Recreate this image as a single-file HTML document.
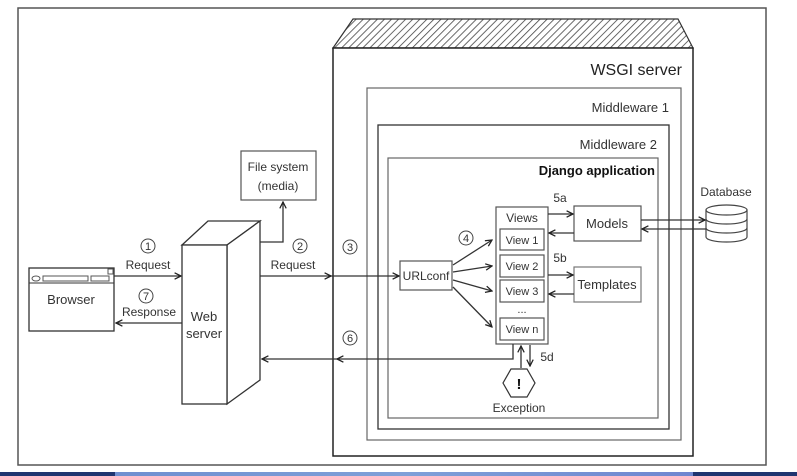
<!DOCTYPE html>
<html><head><meta charset="utf-8"><style>
html,body{margin:0;padding:0;background:#fff;}
svg{display:block;font-family:"Liberation Sans",sans-serif;}
</style></head><body>
<svg width="797" height="476" viewBox="0 0 797 476" xmlns="http://www.w3.org/2000/svg">
<defs>
<pattern id="h" width="5" height="5" patternUnits="userSpaceOnUse" patternTransform="rotate(45)">
<rect width="5" height="5" fill="#fff"/><line x1="0" y1="0" x2="0" y2="5" stroke="#444" stroke-width="1.6"/>
</pattern>
<marker id="a" viewBox="0 0 10 10" refX="9" refY="5" markerWidth="8" markerHeight="8" orient="auto-start-reverse" markerUnits="userSpaceOnUse">
<path d="M1,1 L9,5 L1,9" fill="none" stroke="#222" stroke-width="1.6"/></marker>
<linearGradient id="bb" x1="0" x2="1" y1="0" y2="0">
<stop offset="0" stop-color="#6f8fd0"/><stop offset="0.5" stop-color="#7fa0d8"/><stop offset="1" stop-color="#6f86d0"/></linearGradient>
</defs>
<rect width="797" height="476" fill="#fff"/>
<rect x="18" y="8" width="748" height="457" fill="none" stroke="#555" stroke-width="1.5"/>
<rect x="0" y="472" width="797" height="4" fill="#1f3570"/>
<rect x="115" y="472" width="578" height="4" fill="url(#bb)"/>
<!-- WSGI -->
<polygon points="333,48 353,19 678,19 693,48" fill="url(#h)" stroke="#333" stroke-width="1.2"/>
<rect x="333" y="48" width="360" height="408" fill="#fff" stroke="#222" stroke-width="1.5"/>
<text x="682" y="75" font-size="16" text-anchor="end" fill="#222">WSGI server</text>
<rect x="367" y="88" width="314" height="352" fill="none" stroke="#666" stroke-width="1.2"/>
<text x="669" y="112" font-size="13" text-anchor="end" fill="#333">Middleware 1</text>
<rect x="378" y="125" width="291" height="304" fill="none" stroke="#333" stroke-width="1.3"/>
<text x="657" y="149" font-size="13" text-anchor="end" fill="#333">Middleware 2</text>
<rect x="388" y="158" width="270" height="260" fill="none" stroke="#666" stroke-width="1.2"/>
<text x="655" y="175" font-size="13" font-weight="bold" text-anchor="end" fill="#111">Django application</text>
<!-- Views -->
<rect x="496" y="207" width="52" height="137" fill="#fff" stroke="#555" stroke-width="1.2"/>
<text x="522" y="222" font-size="12" text-anchor="middle" fill="#333">Views</text>
<g fill="none" stroke="#555" stroke-width="1.2">
<rect x="500" y="229" width="44" height="21"/><rect x="500" y="255" width="44" height="22"/>
<rect x="500" y="280" width="44" height="22"/><rect x="500" y="318" width="44" height="22"/></g>
<g font-size="11" text-anchor="middle" fill="#333">
<text x="522" y="244">View 1</text><text x="522" y="270">View 2</text><text x="522" y="295">View 3</text>
<text x="522" y="313">...</text><text x="522" y="333">View n</text></g>
<rect x="574" y="206" width="67" height="35" fill="none" stroke="#555" stroke-width="1.2"/>
<text x="607" y="228" font-size="13" text-anchor="middle" fill="#333">Models</text>
<rect x="574" y="267" width="67" height="35" fill="none" stroke="#777" stroke-width="1.2"/>
<text x="607" y="289" font-size="13" text-anchor="middle" fill="#333">Templates</text>
<rect x="400" y="261" width="52" height="29" fill="none" stroke="#555" stroke-width="1.2"/>
<text x="426" y="280" font-size="12" text-anchor="middle" fill="#333">URLconf</text>
<!-- DB -->
<g fill="#fff" stroke="#444" stroke-width="1.2">
<path d="M706,210 L706,237 A20.5,5 0 0 0 747,237 L747,210"/>
<path d="M706,219 A20.5,5 0 0 0 747,219 M706,228 A20.5,5 0 0 0 747,228" fill="none"/>
<ellipse cx="726.5" cy="210" rx="20.5" ry="5"/></g>
<text x="726" y="196" font-size="12" text-anchor="middle" fill="#333">Database</text>
<!-- arrows -->
<g stroke="#333" stroke-width="1.3" fill="none" marker-end="url(#a)">
<line x1="548" y1="214" x2="573" y2="214"/><line x1="574" y1="233" x2="549" y2="233"/>
<line x1="548" y1="275" x2="573" y2="275"/><line x1="574" y1="294" x2="549" y2="294"/>
<line x1="641" y1="220" x2="705" y2="220"/><line x1="706" y1="229" x2="642" y2="229"/>
<line x1="453" y1="265" x2="492" y2="240"/><line x1="453" y1="272" x2="492" y2="266"/>
<line x1="453" y1="280" x2="492" y2="291"/><line x1="453" y1="287" x2="492" y2="327"/>
<line x1="521" y1="368" x2="521" y2="346"/><line x1="530" y1="345" x2="530" y2="366"/>
<line x1="114" y1="276" x2="181" y2="276"/><line x1="182" y1="323" x2="116" y2="323"/>
<line x1="260" y1="276" x2="331" y2="276"/><line x1="331" y1="276" x2="399" y2="276"/>
<polyline points="260,242 283,242 283,202"/>
<polyline points="513,344 513,359 337,359"/><line x1="337" y1="359" x2="262" y2="359"/>
</g>
<polygon points="511,369 527,369 535,383 527,397 511,397 503,383" fill="#fff" stroke="#333" stroke-width="1.2"/>
<text x="519" y="389" font-size="15" font-weight="bold" text-anchor="middle" fill="#111">!</text>
<text x="519" y="412" font-size="12" text-anchor="middle" fill="#333">Exception</text>
<g font-size="12" fill="#333" text-anchor="middle">
<text x="560" y="202">5a</text><text x="560" y="262">5b</text><text x="547" y="361">5d</text></g>
<!-- circled numbers -->
<g fill="none" stroke="#444" stroke-width="1">
<circle cx="148" cy="246" r="7"/><circle cx="300" cy="246" r="7"/><circle cx="350" cy="247" r="7"/>
<circle cx="466" cy="238" r="7"/><circle cx="350" cy="338" r="7"/><circle cx="146" cy="296" r="7"/></g>
<g font-size="11" fill="#333" text-anchor="middle">
<text x="148" y="250">1</text><text x="300" y="250">2</text><text x="350" y="251">3</text>
<text x="466" y="242">4</text><text x="350" y="342">6</text><text x="146" y="300">7</text></g>
<g font-size="12" fill="#333" text-anchor="middle">
<text x="148" y="269">Request</text><text x="293" y="269">Request</text><text x="149" y="316">Response</text></g>
<!-- file system -->
<rect x="241" y="151" width="75" height="49" fill="none" stroke="#555" stroke-width="1.2"/>
<text x="278" y="171" font-size="12" text-anchor="middle" fill="#333">File system</text>
<text x="278" y="190" font-size="12" text-anchor="middle" fill="#333">(media)</text>
<!-- web server -->
<g fill="#fff" stroke="#333" stroke-width="1.3">
<polygon points="182,245 208,221 260,221 227,245"/>
<polygon points="227,245 260,221 260,380 227,404"/>
<rect x="182" y="245" width="45" height="159"/></g>
<text x="204" y="321" font-size="13" text-anchor="middle" fill="#333">Web</text>
<text x="204" y="338" font-size="13" text-anchor="middle" fill="#333">server</text>
<!-- browser -->
<rect x="29" y="268" width="85" height="63" fill="#fff" stroke="#333" stroke-width="1.3"/>
<line x1="29" y1="283" x2="114" y2="283" stroke="#333"/>
<rect x="43" y="276" width="45" height="5" fill="none" stroke="#555"/>
<rect x="91" y="276" width="18" height="5" fill="none" stroke="#555"/>
<rect x="108" y="269" width="5" height="5" fill="none" stroke="#555"/>
<ellipse cx="36" cy="278.5" rx="4" ry="2.5" fill="none" stroke="#555"/>
<text x="71" y="304" font-size="13" text-anchor="middle" fill="#333">Browser</text>
</svg>
</body></html>
